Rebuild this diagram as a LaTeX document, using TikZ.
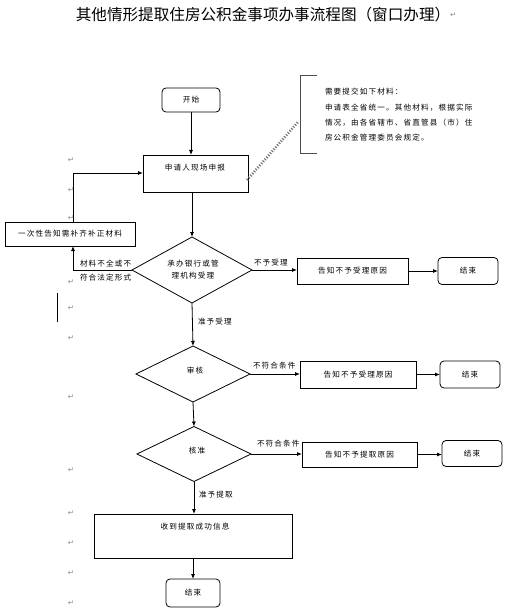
\documentclass[tikz,border=0pt]{standalone}
\usepackage{fontspec}
\setmainfont{Noto Sans CJK SC}
\newfontfamily\cjk{Noto Sans CJK SC}[LetterSpace=15]
\newfontfamily\pmarkfont{DejaVu Sans}
\usetikzlibrary{arrows.meta,shapes.geometric}
\begin{document}
\begin{tikzpicture}[x=1pt,y=-1pt,
  every node/.style={inner sep=0pt, outer sep=0pt},
  txt/.style={font=\cjk\fontsize{7.6}{9}\selectfont},
  boxn/.style={draw, line width=0.8pt, rectangle},
  endbox/.style={draw, line width=0.8pt, rectangle, rounded corners=4pt},
  dia/.style={draw, line width=0.8pt, diamond, shape aspect=1},
  conn/.style={line width=0.8pt},
  arr/.style={line width=0.8pt, -{Latex[length=5pt,width=4pt]}},
  pmark/.style={font=\pmarkfont\fontsize{7.5}{8}\selectfont, text=black!45}
]
\useasboundingbox (0,0) rectangle (514,612);

% title
\node (title) at (263,15) {\fontsize{15.6}{18}\selectfont 其他情形提取住房公积金事项办事流程图（窗口办理）};
\node[pmark, anchor=west] (titlemark) at (title.east) {↵};

% nodes
\node[endbox, minimum width=58, minimum height=24, txt] (start) at (191,100) {开始};
\node[boxn, minimum width=105, minimum height=37] (apply) at (195.5,173.5) {};
\node[txt] (applyt) at (195,168) {申请人现场申报};
\node[boxn, minimum width=130, minimum height=24, txt] (supp) at (70,234) {一次性告知需补齐补正材料};

\node[dia, minimum width=120, minimum height=66] (d1) at (192,270) {};
\node[txt, align=center] (d1t) at (193,270) {承办银行或管\\[3pt]理机构受理};
\node[boxn, minimum width=111, minimum height=26, txt] (r1) at (352.5,271) {告知不予受理原因};
\node[endbox, minimum width=60, minimum height=27, txt] (e1) at (468,271) {结束};

\node[dia, minimum width=114, minimum height=56] (d2) at (193,374) {};
\node[txt] (d2t) at (195,371) {审核};
\node[boxn, minimum width=116, minimum height=27, txt] (r2) at (358,374.5) {告知不予受理原因};
\node[endbox, minimum width=60, minimum height=27, txt] (e2) at (470,374.5) {结束};

\node[dia, minimum width=114, minimum height=55] (d3) at (194,454) {};
\node[txt] (d3t) at (197,451) {核准};
\node[boxn, minimum width=115, minimum height=25, txt] (r3) at (359.5,454.5) {告知不予提取原因};
\node[endbox, minimum width=60, minimum height=26, txt] (e3) at (472,453.5) {结束};

\node[boxn, minimum width=198, minimum height=44] (succ) at (193,536) {};
\node[txt] (succt) at (195,527) {收到提取成功信息};
\node[endbox, minimum width=54, minimum height=28, txt] (e4) at (193,593) {结束};

% note
\coordinate (nt1) at (317,75);
\coordinate (nt2) at (300,75);
\coordinate (nb2) at (300,153);
\coordinate (nb1) at (317,153);
\draw[conn, black!70] (nt1) -- (nt2) -- (nb2) -- (nb1);
\node[txt, anchor=west] (n1) at (325,92) {需要提交如下材料：};
\node[txt, anchor=west] (n2) at (325,108) {申请表全省统一。其他材料，根据实际};
\node[txt, anchor=west] (n3) at (325,123) {情况，由各省辖市、省直管县（市）住};
\node[txt, anchor=west] (n4) at (325,138) {房公积金管理委员会规定。};
\coordinate (dotA) at (247,180);
\coordinate (dotB) at (298,122);
\draw[black!55, line width=2.6pt, dash pattern=on 1.1pt off 1.6pt] (dotA) -- (dotB);

% connectors
\draw[arr] (start.south) -- (start.south |- apply.north);
\draw[arr] (apply.south -| d1.north) -- (d1.north);
\draw[arr] (d1.east) -- (d1.east -| r1.west);
\draw[arr] (r1.east) -- (r1.east -| e1.west);
\draw[arr] (d1.south) -- (d2.north);
\draw[arr] (d2.east) -- (d2.east -| r2.west);
\draw[arr] (r2.east) -- (r2.east -| e2.west);
\draw[arr] (d2.south) -- (d3.north);
\draw[arr] (d3.east) -- (d3.east -| r3.west);
\draw[arr] (r3.east) -- (r3.east -| e3.west);
\draw[arr] (d3.south) -- (d3.south |- succ.north);
\draw[arr] (succ.south) -- (e4.north);
\coordinate (lb) at (73,270);
\coordinate (lt) at (73,173);
\draw[arr] (d1.west) -- (lb) -- (lb |- supp.south);
\draw[arr] (lt |- supp.north) -- (lt) -- (lt -| apply.west);

% labels
\node[txt, anchor=west] (l1) at (254,263) {不予受理};
\node[txt, anchor=west] (l2) at (198,322) {准予受理};
\node[txt, anchor=west] (l3) at (253,366) {不符合条件};
\node[txt, anchor=west] (l4) at (257,444) {不符合条件};
\node[txt, anchor=west] (l5) at (199,495) {准予提取};
\node[txt, anchor=west] (l6) at (80,264) {材料不全或不};
\node[txt, anchor=west] (l7) at (80,278) {符合法定形式};

% stray marks of the source document
\coordinate (vlA) at (57,293);
\coordinate (vlB) at (57,322);
\draw[conn] (vlA) -- (vlB);
\foreach \yy [count=\i] in {160,190,218,282,308,338,397,470,513,543,573,603}
  \node[pmark] (pm\i) at (71,\yy) {↵};
\end{tikzpicture}
\end{document}
